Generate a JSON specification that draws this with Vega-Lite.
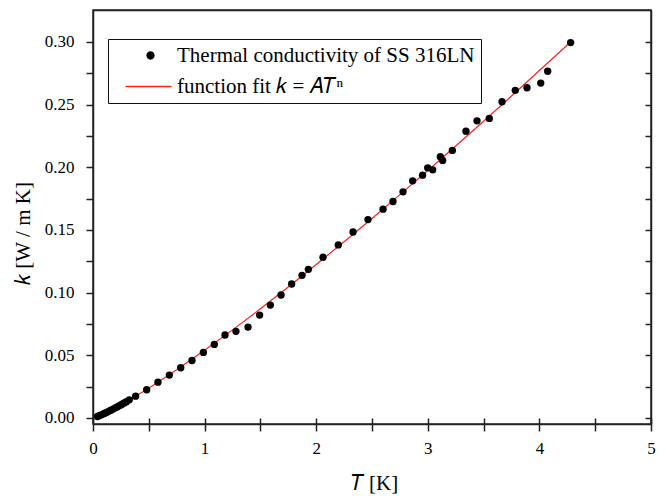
{
  "$schema": "https://vega.github.io/schema/vega-lite/v6.json",
  "width": 558,
  "height": 414,
  "autosize": {"type": "none"},
  "padding": {"left": 93, "top": 10, "right": 15, "bottom": 72},
  "background": "white",
  "config": {
    "font": "Liberation Serif",
    "view": {"stroke": "#222222", "strokeWidth": 1.5},
    "axis": {
      "domainColor": "#222222",
      "domainWidth": 1.5,
      "tickColor": "#222222",
      "tickWidth": 1.5,
      "grid": false,
      "labelFont": "Liberation Serif",
      "labelFontSize": 17,
      "labelColor": "black",
      "titleFont": "Liberation Serif",
      "titleFontSize": 21,
      "titleFontWeight": "normal",
      "titleColor": "black",
      "labelOverlap": false,
      "labelFlush": false
    }
  },
  "resolve": {"axis": {"x": "independent", "y": "independent"}},
  "layer": [
    {
      "data": {
        "values": [
          {"T": 0.03, "k": 0.0009, "part": "fit"}, {"T": 0.1, "k": 0.0036, "part": "fit"},
          {"T": 0.2, "k": 0.0081, "part": "fit"}, {"T": 0.3, "k": 0.0130, "part": "fit"},
          {"T": 0.5, "k": 0.0238, "part": "fit"}, {"T": 0.75, "k": 0.0385, "part": "fit"},
          {"T": 1.0, "k": 0.0540, "part": "fit"}, {"T": 1.25, "k": 0.0703, "part": "fit"},
          {"T": 1.5, "k": 0.0871, "part": "fit"}, {"T": 1.75, "k": 0.1045, "part": "fit"},
          {"T": 2.0, "k": 0.1224, "part": "fit"}, {"T": 2.25, "k": 0.1406, "part": "fit"},
          {"T": 2.5, "k": 0.1592, "part": "fit"}, {"T": 2.75, "k": 0.1782, "part": "fit"},
          {"T": 3.0, "k": 0.1974, "part": "fit"}, {"T": 3.25, "k": 0.2170, "part": "fit"},
          {"T": 3.5, "k": 0.2368, "part": "fit"}, {"T": 3.75, "k": 0.2569, "part": "fit"},
          {"T": 4.0, "k": 0.2772, "part": "fit"}, {"T": 4.28, "k": 0.3000, "part": "fit"}
        ]
      },
      "mark": {"type": "line", "strokeWidth": 1.2},
      "encoding": {
        "x": {
          "field": "T", "type": "quantitative",
          "scale": {"domain": [0, 5], "nice": false, "zero": false},
          "axis": {"orient": "top", "labels": false, "title": null, "ticks": false,
                   "grid": true, "gridColor": "#222222", "gridWidth": 1.5, "gridOpacity": 1, "gridDash": [6, 1000],
                   "values": [0, 0.5, 1, 1.5, 2, 2.5, 3, 3.5, 4, 4.5, 5]}
        },
        "y": {
          "field": "k", "type": "quantitative",
          "scale": {"domain": [-0.0048, 0.3255], "nice": false, "zero": false},
          "axis": {"orient": "right", "labels": false, "title": null, "ticks": false,
                   "grid": true, "gridColor": "#222222", "gridWidth": 1.5, "gridOpacity": 1, "gridDash": [6, 1000],
                   "values": [0, 0.025, 0.05, 0.075, 0.1, 0.125, 0.15, 0.175, 0.2, 0.225, 0.25, 0.275, 0.3]}
        },
        "stroke": {
          "field": "part", "type": "nominal",
          "scale": {"domain": ["pts", "fit"], "range": ["transparent", "#ff2020"]},
          "legend": {
            "orient": "none", "legendX": 15, "legendY": 29, "title": null, "padding": 6,
            "labelFont": "Liberation Serif", "labelFontSize": 21, "labelColor": "black", "labelExpr": "''",
            "labelOffset": 42, "rowPadding": 9, "symbolSize": 100, "symbolStrokeWidth": 1.3,
            "symbolType": "M0.2,0H9.4"
          }
        }
      }
    },
    {
      "data": {
        "values": [
          {"T": 0.04, "k": 0.0012, "series": "Thermal conductivity of SS 316LN"},
          {"T": 0.06, "k": 0.0020, "series": "Thermal conductivity of SS 316LN"},
          {"T": 0.08, "k": 0.0027, "series": "Thermal conductivity of SS 316LN"},
          {"T": 0.10, "k": 0.0036, "series": "Thermal conductivity of SS 316LN"},
          {"T": 0.12, "k": 0.0044, "series": "Thermal conductivity of SS 316LN"},
          {"T": 0.14, "k": 0.0053, "series": "Thermal conductivity of SS 316LN"},
          {"T": 0.16, "k": 0.0062, "series": "Thermal conductivity of SS 316LN"},
          {"T": 0.18, "k": 0.0071, "series": "Thermal conductivity of SS 316LN"},
          {"T": 0.20, "k": 0.0081, "series": "Thermal conductivity of SS 316LN"},
          {"T": 0.22, "k": 0.0090, "series": "Thermal conductivity of SS 316LN"},
          {"T": 0.24, "k": 0.0100, "series": "Thermal conductivity of SS 316LN"},
          {"T": 0.26, "k": 0.0110, "series": "Thermal conductivity of SS 316LN"},
          {"T": 0.28, "k": 0.0120, "series": "Thermal conductivity of SS 316LN"},
          {"T": 0.30, "k": 0.0130, "series": "Thermal conductivity of SS 316LN"},
          {"T": 0.325, "k": 0.0145, "series": "Thermal conductivity of SS 316LN"},
          {"T": 0.382, "k": 0.0174, "series": "Thermal conductivity of SS 316LN"},
          {"T": 0.481, "k": 0.0225, "series": "Thermal conductivity of SS 316LN"},
          {"T": 0.582, "k": 0.0286, "series": "Thermal conductivity of SS 316LN"},
          {"T": 0.684, "k": 0.0342, "series": "Thermal conductivity of SS 316LN"},
          {"T": 0.786, "k": 0.0401, "series": "Thermal conductivity of SS 316LN"},
          {"T": 0.887, "k": 0.0459, "series": "Thermal conductivity of SS 316LN"},
          {"T": 0.989, "k": 0.0523, "series": "Thermal conductivity of SS 316LN"},
          {"T": 1.087, "k": 0.0587, "series": "Thermal conductivity of SS 316LN"},
          {"T": 1.183, "k": 0.0662, "series": "Thermal conductivity of SS 316LN"},
          {"T": 1.281, "k": 0.0691, "series": "Thermal conductivity of SS 316LN"},
          {"T": 1.389, "k": 0.0725, "series": "Thermal conductivity of SS 316LN"},
          {"T": 1.493, "k": 0.0821, "series": "Thermal conductivity of SS 316LN"},
          {"T": 1.589, "k": 0.0901, "series": "Thermal conductivity of SS 316LN"},
          {"T": 1.685, "k": 0.0981, "series": "Thermal conductivity of SS 316LN"},
          {"T": 1.780, "k": 0.1069, "series": "Thermal conductivity of SS 316LN"},
          {"T": 1.873, "k": 0.1138, "series": "Thermal conductivity of SS 316LN"},
          {"T": 1.930, "k": 0.1186, "series": "Thermal conductivity of SS 316LN"},
          {"T": 2.061, "k": 0.1282, "series": "Thermal conductivity of SS 316LN"},
          {"T": 2.198, "k": 0.1381, "series": "Thermal conductivity of SS 316LN"},
          {"T": 2.330, "k": 0.1484, "series": "Thermal conductivity of SS 316LN"},
          {"T": 2.464, "k": 0.1583, "series": "Thermal conductivity of SS 316LN"},
          {"T": 2.599, "k": 0.1666, "series": "Thermal conductivity of SS 316LN"},
          {"T": 2.688, "k": 0.1727, "series": "Thermal conductivity of SS 316LN"},
          {"T": 2.778, "k": 0.1804, "series": "Thermal conductivity of SS 316LN"},
          {"T": 2.864, "k": 0.1892, "series": "Thermal conductivity of SS 316LN"},
          {"T": 2.953, "k": 0.1937, "series": "Thermal conductivity of SS 316LN"},
          {"T": 2.999, "k": 0.1996, "series": "Thermal conductivity of SS 316LN"},
          {"T": 3.044, "k": 0.1980, "series": "Thermal conductivity of SS 316LN"},
          {"T": 3.112, "k": 0.2084, "series": "Thermal conductivity of SS 316LN"},
          {"T": 3.133, "k": 0.2055, "series": "Thermal conductivity of SS 316LN"},
          {"T": 3.220, "k": 0.2135, "series": "Thermal conductivity of SS 316LN"},
          {"T": 3.342, "k": 0.2288, "series": "Thermal conductivity of SS 316LN"},
          {"T": 3.441, "k": 0.2371, "series": "Thermal conductivity of SS 316LN"},
          {"T": 3.551, "k": 0.2390, "series": "Thermal conductivity of SS 316LN"},
          {"T": 3.665, "k": 0.2523, "series": "Thermal conductivity of SS 316LN"},
          {"T": 3.784, "k": 0.2614, "series": "Thermal conductivity of SS 316LN"},
          {"T": 3.889, "k": 0.2635, "series": "Thermal conductivity of SS 316LN"},
          {"T": 4.012, "k": 0.2672, "series": "Thermal conductivity of SS 316LN"},
          {"T": 4.074, "k": 0.2766, "series": "Thermal conductivity of SS 316LN"},
          {"T": 4.280, "k": 0.2995, "series": "Thermal conductivity of SS 316LN"}
        ]
      },
      "mark": {"type": "point", "filled": true, "size": 54, "opacity": 1},
      "encoding": {
        "x": {
          "field": "T", "type": "quantitative",
          "scale": {"domain": [0, 5], "nice": false, "zero": false},
          "axis": {
            "orient": "bottom", "tickSize": 7, "labelPadding": 22, "labelBaseline": "alphabetic",
            "values": [0, 0.5, 1, 1.5, 2, 2.5, 3, 3.5, 4, 4.5, 5],
            "labelExpr": "datum.value % 1 === 0 ? format(datum.value, 'd') : ''",
            "title": "𝑇 [K]", "titleX": 281, "titleY": 65, "titleBaseline": "alphabetic", "titleAlign": "center"
          }
        },
        "y": {
          "field": "k", "type": "quantitative",
          "scale": {"domain": [-0.0048, 0.3255], "nice": false, "zero": false},
          "axis": {
            "orient": "left", "tickSize": 7, "labelPadding": 12,
            "values": [0, 0.025, 0.05, 0.075, 0.1, 0.125, 0.15, 0.175, 0.2, 0.225, 0.25, 0.275, 0.3],
            "labelExpr": "round(datum.value * 1000) % 50 === 0 ? format(datum.value, '.2f') : ''",
            "title": "𝑘 [W / m K]", "titleAngle": 270, "titleX": -64, "titleY": 223, "titleBaseline": "alphabetic", "titleAlign": "center"
          }
        },
        "color": {
          "field": "series", "type": "nominal",
          "scale": {"domain": ["Thermal conductivity of SS 316LN", "function fit 𝑘 = 𝐴𝑇ⁿ"], "range": ["black", "transparent"]},
          "legend": {
            "orient": "none", "legendX": 15, "legendY": 29, "title": null,
            "strokeColor": "#111111", "padding": 6,
            "labelFont": "Liberation Serif", "labelFontSize": 21, "labelColor": "black", "labelLimit": 500,
            "labelOffset": 42, "rowPadding": 9, "symbolSize": 100, "symbolStrokeWidth": 0,
            "symbolType": "M6.03,0A0.83,0.83,0,1,1,4.37,0A0.83,0.83,0,1,1,6.03,0Z"
          }
        }
      }
    }
  ]
}
